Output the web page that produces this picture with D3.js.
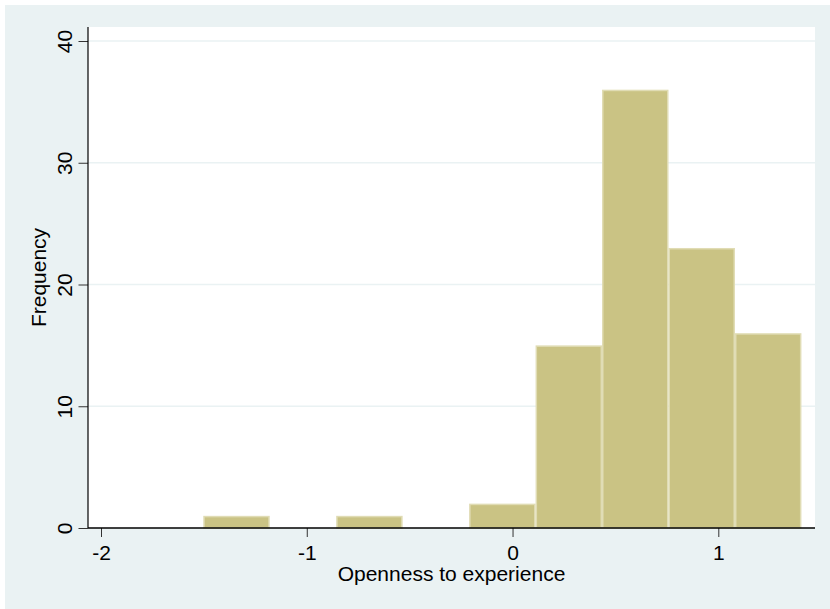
<!DOCTYPE html>
<html>
<head>
<meta charset="utf-8">
<script src="https://cdn.jsdelivr.net/npm/d3@7"></script>
<style>
  html, body { margin: 0; padding: 0; background: #ffffff; }
  svg { display: block; }
  text { font-family: "Liberation Sans", Arial, Helvetica, sans-serif; fill: #000; }
</style>
</head>
<body>
<svg id="chart" width="830" height="609"></svg>
<script>
// Histogram of openness-to-experience scores
const binEdges = [-1.503, -1.180, -0.857, -0.534, -0.211, 0.112, 0.435, 0.758, 1.081, 1.404];
const binCounts = [1, 0, 1, 0, 2, 15, 36, 23, 16];
const xTickValues = [-2, -1, 0, 1];
const xTickLabels = ["-2", "-1", "0", "1"];
const yTickValues = [0, 10, 20, 30, 40];
const yTickLabels = ["0", "10", "20", "30", "40"];
const xTitle = "Openness to experience";
const yTitle = "Frequency";

const bins = binCounts.map((c, i) => ({ x0: binEdges[i], x1: binEdges[i + 1], count: c }));

const W = 830, H = 609;
const plot = { left: 88, right: 815, top: 27, bottom: 528 };

const x = d3.scaleLinear().domain([-2, 1]).range([101, 718.3]);
const y = d3.scaleLinear().domain([0, 40]).range([528, 41]);

const svg = d3.select("#chart");

// outer panel
svg.append("rect").attr("x", 5).attr("y", 5).attr("width", W - 5).attr("height", H - 5)
  .attr("fill", "#eaf2f3");

// plot region
svg.append("rect")
  .attr("x", plot.left).attr("y", plot.top)
  .attr("width", plot.right - plot.left).attr("height", plot.bottom - plot.top)
  .attr("fill", "#ffffff");

// horizontal grid lines
svg.append("g").selectAll("line")
  .data(yTickValues.filter(v => v > 0))
  .join("line")
  .attr("x1", plot.left).attr("x2", plot.right)
  .attr("y1", d => y(d)).attr("y2", d => y(d))
  .attr("stroke", "#eaf2f3").attr("stroke-width", 1.6);

// bars
svg.append("g").selectAll("rect")
  .data(bins.filter(b => b.count > 0))
  .join("rect")
  .attr("x", d => x(d.x0) + 0.75)
  .attr("width", d => x(d.x1) - x(d.x0) - 1.5)
  .attr("y", d => y(d.count) + 0.75)
  .attr("height", d => y(0) - y(d.count) - 0.75)
  .attr("fill", "#cac384")
  .attr("stroke", "#e0dcb4")
  .attr("stroke-width", 1.5);

// y axis
const yAxis = d3.axisLeft(y).tickValues(yTickValues).tickSize(9.5)
  .tickFormat((d, i) => yTickLabels[i]);
const gy = svg.append("g").attr("transform", `translate(${plot.left},0)`).call(yAxis);
gy.select(".domain").remove();
gy.selectAll(".tick line").attr("stroke", "#333").attr("stroke-width", 1);
gy.selectAll(".tick text")
  .attr("font-size", 21)
  .attr("x", 0).attr("dy", 0)
  .attr("text-anchor", "middle")
  .attr("transform", "translate(-16,0) rotate(-90)");
svg.append("line")
  .attr("x1", plot.left).attr("x2", plot.left)
  .attr("y1", plot.top).attr("y2", plot.bottom)
  .attr("stroke", "#000").attr("stroke-width", 1.2);

// x axis
const xAxis = d3.axisBottom(x).tickValues(xTickValues).tickSize(9)
  .tickFormat((d, i) => xTickLabels[i]);
const gx = svg.append("g").attr("transform", `translate(0,${plot.bottom})`).call(xAxis);
gx.select(".domain").remove();
gx.selectAll(".tick line").attr("stroke", "#333").attr("stroke-width", 1);
gx.selectAll(".tick text")
  .attr("font-size", 21)
  .attr("y", 32).attr("dy", 0);
svg.append("line")
  .attr("x1", plot.left).attr("x2", plot.right)
  .attr("y1", plot.bottom).attr("y2", plot.bottom)
  .attr("stroke", "#000").attr("stroke-width", 1.4);

// axis titles
svg.append("text")
  .attr("x", (plot.left + plot.right) / 2).attr("y", 581)
  .attr("text-anchor", "middle").attr("font-size", 21)
  .text(xTitle);
svg.append("text")
  .attr("transform", `translate(46,${(plot.top + plot.bottom) / 2}) rotate(-90)`)
  .attr("text-anchor", "middle").attr("font-size", 21)
  .text(yTitle);
</script>
</body>
</html>
